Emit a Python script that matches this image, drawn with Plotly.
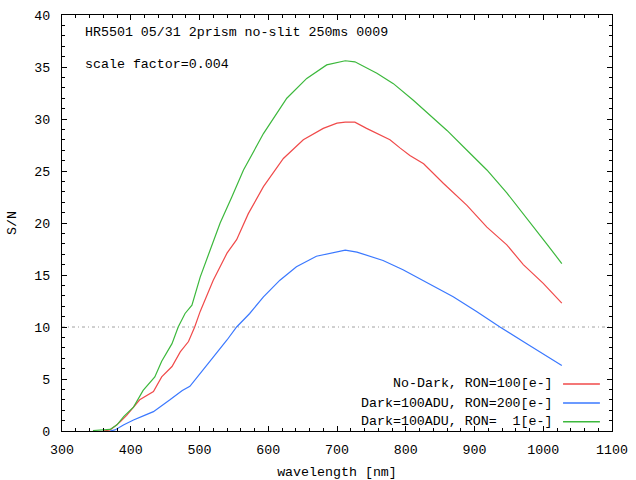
import plotly.graph_objects as go

# ---- data ----
green_wl = [345, 360, 370, 380, 390, 404, 418, 435, 445, 460, 469, 479, 489, 501, 515, 530, 547,
            564, 593, 627, 656, 685, 712, 726, 758, 782, 811, 835, 860, 889, 918, 947, 976, 1005, 1027]
green_sn = [0.05, 0.1, 0.15, 0.6, 1.4, 2.3, 3.9, 5.2, 6.7, 8.4, 10.0, 11.3, 12.1, 14.8, 17.4, 20.0, 22.5,
            25.1, 28.6, 32.0, 33.9, 35.2, 35.6, 35.5, 34.4, 33.4, 31.8, 30.4, 28.9, 27.0, 25.1, 22.9, 20.5, 18.0, 16.1]

red_wl = [360, 370, 376, 385, 394, 413, 433, 445, 460, 472, 484, 493, 501, 520, 540, 554, 571, 593,
          622, 651, 680, 700, 712, 726, 743, 777, 792, 806, 826, 855, 889, 918, 947, 971, 1000, 1027]
red_sn = [0.0, 0.1, 0.4, 0.9, 1.5, 3.0, 3.8, 5.2, 6.2, 7.6, 8.6, 10.0, 11.5, 14.5, 17.1, 18.4, 20.9, 23.5,
          26.2, 28.0, 29.1, 29.6, 29.7, 29.7, 29.1, 28.0, 27.2, 26.5, 25.7, 23.8, 21.7, 19.6, 17.9, 16.0, 14.2, 12.3]

blue_wl = [370, 377, 390, 404, 420, 433, 457, 475, 486, 501, 520, 540, 554, 573, 593, 617, 641, 670,
           695, 712, 729, 767, 796, 826, 869, 903, 937, 976, 1012, 1027]
blue_sn = [0.0, 0.1, 0.6, 1.06, 1.5, 1.86, 3.0, 3.9, 4.3, 5.5, 7.1, 8.75, 10.0, 11.3, 12.9, 14.5, 15.8, 16.8,
           17.2, 17.4, 17.2, 16.4, 15.5, 14.4, 12.9, 11.5, 10.0, 8.4, 6.97, 6.3]

threshold = 10
series_names = ["No-Dark, RON=100[e-]", "Dark=100ADU, RON=200[e-]", "Dark=100ADU, RON=\u00a0\u00a01[e-]"]
series_colors = ["#f04a4a", "#3a78ff", "#3cb83c"]
title_lines = ["HR5501 05/31 2prism no-slit 250ms 0009", "scale factor=0.004"]
x_title = "wavelength [nm]"
y_title = "S/N"

FONT = "Liberation Mono"
FS = 13.3

fig = go.Figure()
for wl, sn, name, col in [(red_wl, red_sn, series_names[0], series_colors[0]),
                          (blue_wl, blue_sn, series_names[1], series_colors[1]),
                          (green_wl, green_sn, series_names[2], series_colors[2])]:
    fig.add_trace(go.Scatter(x=wl, y=sn, mode="lines", name=name,
                             line=dict(color=col, width=1.2), showlegend=False))

# threshold line
fig.add_shape(type="line", xref="paper", x0=0, x1=1, yref="y", y0=threshold, y1=threshold,
              line=dict(color="#a0a0a0", width=1, dash="3px,3px,1px,3px"), layer="below")

# text at top-left
for i, t in enumerate(title_lines):
    fig.add_annotation(text=t, xref="paper", yref="paper", x=0.038, y=[0.959, 0.880][i],
                       xanchor="left", yanchor="middle", showarrow=False,
                       font=dict(family=FONT, size=FS, color="black"))

# key (right-aligned text, sample line to the right)
key_y = [0.113, 0.0673, 0.0225]
for name, col, ky in zip(series_names, series_colors, key_y):
    fig.add_annotation(text=name, xref="paper", yref="paper", x=0.897, y=ky,
                       xanchor="right", yanchor="middle", showarrow=False,
                       font=dict(family=FONT, size=FS, color="black"))
    fig.add_shape(type="line", xref="paper", yref="paper", x0=0.911, x1=0.978, y0=ky, y1=ky,
                  line=dict(color=col, width=1.5))

axis_common = dict(showline=True, linecolor="black", linewidth=1, mirror="allticks",
                   ticks="inside", ticklen=5, tickcolor="black", tickwidth=1,
                   showgrid=False, zeroline=False, automargin=False,
                   tickfont=dict(family=FONT, size=FS, color="black"))

fig.update_xaxes(range=[300, 1100], dtick=100, tick0=300,
                 minor=dict(dtick=20, ticks="inside", ticklen=3, tickcolor="black", tickwidth=1, showgrid=False),
                 title=dict(text=x_title, font=dict(family=FONT, size=FS, color="black"), standoff=10),
                 ticklabelstandoff=6, **axis_common)
fig.update_yaxes(range=[0, 40], dtick=5, tick0=0,
                 minor=dict(dtick=1, ticks="inside", ticklen=3, tickcolor="black", tickwidth=1, showgrid=False),
                 title=dict(text=y_title, font=dict(family=FONT, size=FS, color="black"), standoff=14),
                 ticklabelstandoff=8, **axis_common)

fig.update_layout(width=636, height=480, margin=dict(l=62, r=24, t=15, b=49, autoexpand=False),
                  plot_bgcolor="white", paper_bgcolor="white", showlegend=False)

fig.write_html("out.html")
